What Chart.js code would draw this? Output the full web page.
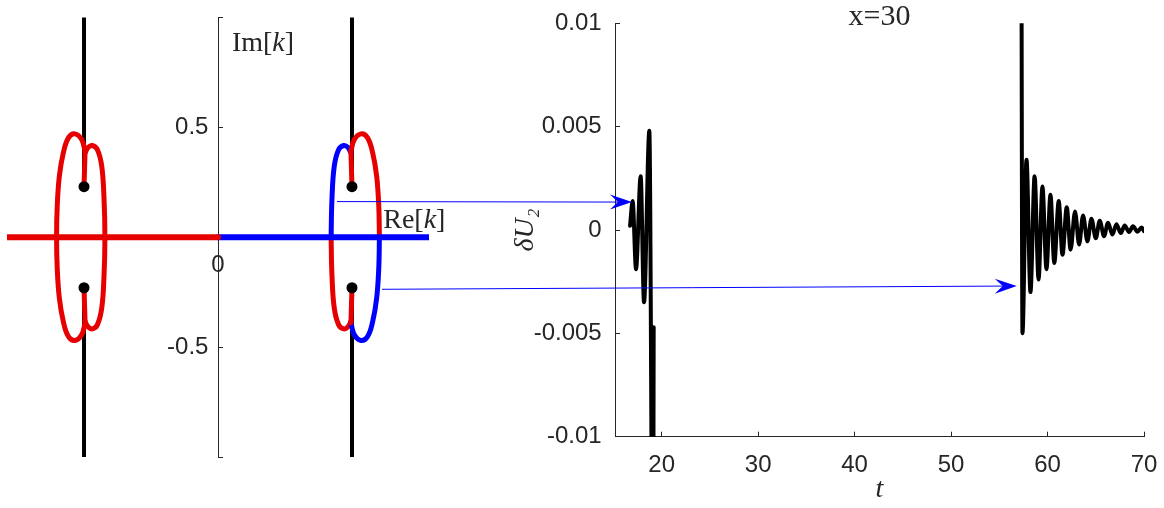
<!DOCTYPE html>
<html>
<head>
<meta charset="UTF-8">
<title>delta U2 at x=30</title>
<script src="https://cdn.jsdelivr.net/npm/chart.js"></script>
<style>
  body { margin: 0; background: #ffffff; }
  #wrap { position: relative; width: 1164px; height: 508px; }
  #wrap canvas { position: absolute; left: 0; top: 0; }
</style>
</head>
<body>
<div id="wrap">
  <canvas id="kPlane" width="1164" height="508"></canvas>
  <canvas id="signal" width="1164" height="508"></canvas>
</div>
<script>
// --- left panel: complex k plane ---
const branchX = [-0.635, 0.635];
const branchY = [0.23, -0.23];
const junctionY = [0.39, -0.39];
const realAxisX = [-1, 0, 1];

// left pair (all red)
const bigLoopLeftX = [-0.630, -0.646, -0.678, -0.709, -0.733, -0.752, -0.762, -0.765, -0.762, -0.752, -0.733, -0.709, -0.678, -0.646, -0.630];
const smallLoopLeftX = [-0.630, -0.615, -0.596, -0.572, -0.551, -0.540, -0.536, -0.540, -0.551, -0.572, -0.596, -0.615, -0.630];
// right pair (red / blue)
const bigLoopRightX = [0.630, 0.646, 0.678, 0.709, 0.733, 0.752, 0.762, 0.765, 0.762, 0.752, 0.733, 0.709, 0.678, 0.646, 0.630];
const smallLoopRightX = [0.630, 0.615, 0.596, 0.572, 0.551, 0.540, 0.536, 0.540, 0.551, 0.572, 0.596, 0.615, 0.630];
const bigLoopY = [0.391, 0.444, 0.470, 0.452, 0.384, 0.277, 0.140, 0, -0.140, -0.277, -0.384, -0.452, -0.470, -0.444, -0.391];
const smallLoopY = [0.384, 0.409, 0.417, 0.399, 0.323, 0.171, 0, -0.171, -0.323, -0.399, -0.417, -0.409, -0.384];

const kYTicks = [-1, -0.5, 0.5, 1];
const kYTickLabels = ['', '-0.5', '0.5', ''];
const kXTicks = [0];
const kXTickLabels = ['0'];

// --- right panel: delta U2 vs t ---
const tValues = [16.72, 16.99, 17.34, 17.82, 18.17, 18.72, 19.10, 19.17, 19.30,
  57.27, 57.40, 57.82, 58.23, 58.66, 59.07, 59.47, 59.89, 60.30, 60.70, 61.16, 61.55,
  61.99, 62.39, 62.85, 63.27, 63.68, 64.14, 64.55, 65.00, 65.41, 65.86, 66.27, 66.73,
  67.14, 67.59, 68.00, 68.45, 68.86, 69.32, 69.75, 70.00];
const dU2Values = [0.0002, 0.0014, -0.0019, 0.0026, -0.0035, 0.0048, -0.0200, -0.0047, null,
  0.0200, -0.0050, 0.0034, -0.0030, 0.0026, -0.0024, 0.0021, -0.0019, 0.0017, -0.0016, 0.0014, -0.0012,
  0.0011, -0.00095, 0.0009, -0.0007, 0.0007, -0.00055, 0.00055, -0.0004, 0.00045, -0.0003, 0.00035, -0.00022,
  0.00028, -0.00015, 0.00022, -0.0001, 0.00018, -0.00008, 0.00012, -0.00005];
const tTicks = [20, 30, 40, 50, 60, 70];
const uTicks = [-0.01, -0.005, 0, 0.005, 0.01];
const uTickLabels = ['-0.01', '-0.005', '0', '0.005', '0.01'];

// arrows: from k plane (Re, Im) to the signal (t, dU2)
const arrowFromK = [[0.564, 0.162], [0.777, -0.237]];
const arrowToT = [[16.92, 0.00135], [56.81, -0.00271]];

const red = '#e60000';
const blue = '#0000ff';
const ink = '#262626';
const serif = "'Liberation Serif', 'DejaVu Serif', serif";

Chart.defaults.font.family = "'Liberation Sans', Arial, sans-serif";
Chart.defaults.font.size = 24;
Chart.defaults.color = ink;

function pts(xs, ys) {
  return xs.map((x, i) => ({ x: x, y: ys[i] }));
}

function curve(data, color, width, order) {
  return {
    data: data, showLine: true, borderColor: color, borderWidth: width,
    pointRadius: 0, tension: 0.4, borderCapStyle: 'round', borderJoinStyle: 'round', order: order
  };
}

// texto con partes en cursiva (estilo LaTeX)
function drawRich(ctx, parts, x, y, size, align) {
  ctx.save();
  ctx.fillStyle = ink;
  ctx.textBaseline = 'alphabetic';
  ctx.textAlign = 'left';
  let total = 0;
  parts.forEach(p => {
    ctx.font = (p.italic ? 'italic ' : '') + size + 'px ' + serif;
    total += ctx.measureText(p.text).width;
  });
  let cx = align === 'center' ? x - total / 2 : x;
  parts.forEach(p => {
    ctx.font = (p.italic ? 'italic ' : '') + size + 'px ' + serif;
    ctx.fillText(p.text, cx, y);
    cx += ctx.measureText(p.text).width;
  });
  ctx.restore();
}

const kLabels = [
  { x: 0.066, y: 0.846, parts: [{ text: 'Im[' }, { text: 'k', italic: true }, { text: ']' }] },
  { x: 0.783, y: 0.042, parts: [{ text: 'Re[' }, { text: 'k', italic: true }, { text: ']' }] }
];

const kLabelPlugin = {
  id: 'kLabels',
  afterDraw(chart) {
    const { ctx, scales } = chart;
    kLabels.forEach(l => {
      drawRich(ctx, l.parts, scales.x.getPixelForValue(l.x), scales.y.getPixelForValue(l.y), 28, 'left');
    });
  }
};

const kDatasets = [];
branchX.forEach(bx => {
  kDatasets.push(curve([{ x: bx, y: 1 }, { x: bx, y: branchY[0] }], '#000000', 4, 4));
  kDatasets.push(curve([{ x: bx, y: branchY[1] }, { x: bx, y: -1 }], '#000000', 4, 4));
  kDatasets.push(curve([{ x: bx, y: branchY[0] }, { x: bx * 0.992, y: junctionY[0] }], red, 5, 2));
  kDatasets.push(curve([{ x: bx, y: branchY[1] }, { x: bx * 0.992, y: junctionY[1] }], red, 5, 2));
});
// left pair
kDatasets.push(curve(pts(bigLoopLeftX, bigLoopY), red, 5, 3));
kDatasets.push(curve(pts(smallLoopLeftX, smallLoopY), red, 5, 3));
// right pair: upper half of the big loop red, lower half blue; small loop the other way
kDatasets.push(curve(pts(bigLoopRightX.slice(0, 8), bigLoopY.slice(0, 8)), red, 5, 3));
kDatasets.push(curve(pts(bigLoopRightX.slice(7), bigLoopY.slice(7)), blue, 5, 3));
kDatasets.push(curve(pts(smallLoopRightX.slice(0, 7), smallLoopY.slice(0, 7)), blue, 5, 3));
kDatasets.push(curve(pts(smallLoopRightX.slice(6), smallLoopY.slice(6)), red, 5, 3));
// real axis
kDatasets.push(curve(pts(realAxisX.slice(0, 2), [0, 0]), red, 6, 1));
kDatasets.push(curve(pts(realAxisX.slice(1), [0, 0]), blue, 6, 1));
// branch points
kDatasets.push({
  data: pts([branchX[0], branchX[0], branchX[1], branchX[1]], [branchY[0], branchY[1], branchY[0], branchY[1]]),
  showLine: false, pointRadius: 5.5, pointBackgroundColor: '#000000', pointBorderWidth: 0, order: 0
});

const kChart = new Chart(document.getElementById('kPlane'), {
  type: 'scatter',
  data: { datasets: kDatasets },
  options: {
    responsive: false,
    animation: false,
    events: [],
    layout: { padding: { left: 7, right: 735, top: 14, bottom: 51 } },
    plugins: { legend: { display: false }, tooltip: { enabled: false } },
    scales: {
      x: {
        type: 'linear', min: -1, max: 1, position: { y: 0 },
        border: { display: false },
        grid: { display: false, drawTicks: false },
        afterBuildTicks: s => { s.ticks = kXTicks.map(v => ({ value: v })); },
        ticks: { padding: 14, callback: (v, i) => kXTickLabels[i] }
      },
      y: {
        type: 'linear', min: -1, max: 1, position: { x: 0 },
        border: { display: true, color: ink, width: 1 },
        grid: { drawOnChartArea: false, tickLength: -5, color: ink },
        afterBuildTicks: s => { s.ticks = kYTicks.map(v => ({ value: v })); },
        // centred axis: labels sit right on the axis, two thin spaces give the gap
        ticks: { callback: (v, i) => kYTickLabels[i] ? kYTickLabels[i] + '\u2009\u2009' : '' }
      }
    }
  },
  plugins: [kLabelPlugin]
});

const signalPlugin = {
  id: 'signalExtras',
  afterDraw(chart) {
    const { ctx, chartArea, scales } = chart;
    drawRich(ctx, [{ text: 'x=30' }], (chartArea.left + chartArea.right) / 2, chartArea.top + 2, 30, 'center');
    // flechas azules
    ctx.save();
    ctx.strokeStyle = blue;
    ctx.fillStyle = blue;
    ctx.lineWidth = 1;
    arrowFromK.forEach((from, i) => {
      const x0 = kChart.scales.x.getPixelForValue(from[0]);
      const y0 = kChart.scales.y.getPixelForValue(from[1]);
      const x1 = scales.x.getPixelForValue(arrowToT[i][0]);
      const y1 = scales.y.getPixelForValue(arrowToT[i][1]);
      const ang = Math.atan2(y1 - y0, x1 - x0);
      const len = 22, half = 7.5, notch = 14;
      ctx.beginPath();
      ctx.moveTo(x0, y0);
      ctx.lineTo(x1 - notch * Math.cos(ang), y1 - notch * Math.sin(ang));
      ctx.stroke();
      ctx.save();
      ctx.translate(x1, y1);
      ctx.rotate(ang);
      ctx.beginPath();
      ctx.moveTo(0, 0);
      ctx.lineTo(-len, -half);
      ctx.lineTo(-notch, 0);
      ctx.lineTo(-len, half);
      ctx.closePath();
      ctx.fill();
      ctx.restore();
    });
    ctx.restore();
  }
};

new Chart(document.getElementById('signal'), {
  type: 'line',
  data: {
    datasets: [{
      data: pts(tValues, dU2Values),
      borderColor: '#000000', borderWidth: 4, pointRadius: 0,
      cubicInterpolationMode: 'monotone', spanGaps: false,
      borderCapStyle: 'round', borderJoinStyle: 'round'
    }]
  },
  options: {
    responsive: false,
    animation: false,
    events: [],
    layout: { padding: { left: 509, right: 20, top: 23.3, bottom: 0 } },
    plugins: { legend: { display: false }, tooltip: { enabled: false } },
    scales: {
      x: {
        type: 'linear', min: 15.16, max: 70, position: 'bottom',
        border: { color: ink, width: 1 },
        grid: { drawOnChartArea: false, tickLength: -5, color: ink },
        afterBuildTicks: s => { s.ticks = tTicks.map(v => ({ value: v })); },
        // tamaño fijo para que el área del gráfico quede donde la original
        afterFit: s => { s.height = 71.3; s.paddingLeft = 0; s.paddingRight = 0; },
        ticks: { padding: 19, callback: v => String(v) },
        title: { display: true, text: 't', color: ink, font: { family: serif, size: 28, style: 'italic' }, padding: { top: 0, bottom: 2 } }
      },
      y: {
        type: 'linear', min: -0.01, max: 0.01, position: 'left',
        border: { color: ink, width: 1 },
        grid: { drawOnChartArea: false, tickLength: -5, color: ink },
        afterBuildTicks: s => { s.ticks = uTicks.map(v => ({ value: v })); },
        afterFit: s => { s.width = 106; s.paddingTop = 0; s.paddingBottom = 0; },
        ticks: { padding: 18.3, callback: (v, i) => uTickLabels[i] },
        title: { display: true, text: 'δU₂', color: ink, font: { family: serif, size: 28, style: 'italic' }, padding: { top: 0, bottom: 0 } }
      }
    }
  },
  plugins: [signalPlugin]
});
</script>
</body>
</html>
